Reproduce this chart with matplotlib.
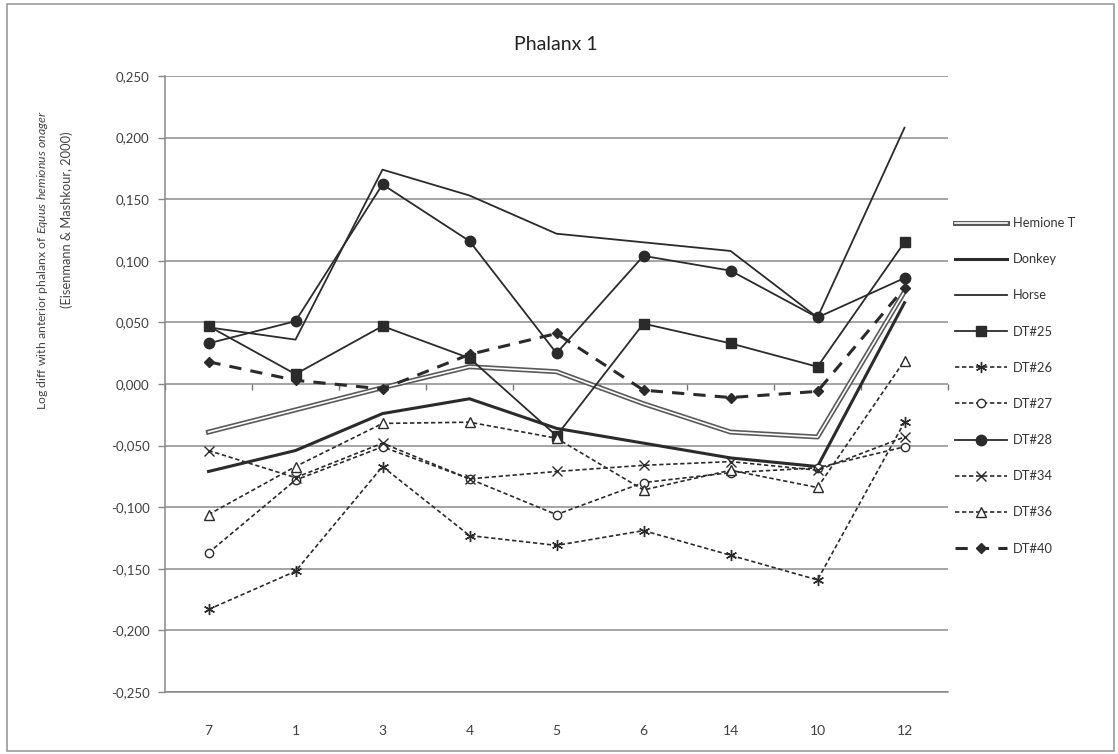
import matplotlib
matplotlib.use("Agg")
import matplotlib.pyplot as plt
import matplotlib.patheffects as pe
from matplotlib.patches import Rectangle
from matplotlib.ticker import FuncFormatter, FixedLocator

plt.rcParams['font.family'] = ['Lato', 'DejaVu Sans']
plt.rcParams['mathtext.fontset'] = 'custom'
plt.rcParams['mathtext.it'] = 'Lato:italic'
plt.rcParams['mathtext.rm'] = 'Lato'

categories = ['7', '1', '3', '4', '5', '6', '14', '10', '12']
hemione = [-0.039, -0.021, -0.003, 0.014, 0.010, -0.016, -0.039, -0.043, 0.075]
donkey = [-0.071, -0.054, -0.024, -0.012, -0.036, -0.048, -0.060, -0.067, 0.066]
horse = [0.046, 0.036, 0.174, 0.153, 0.122, 0.115, 0.108, 0.054, 0.208]
dt25 = [0.047, 0.008, 0.047, 0.021, -0.042, 0.049, 0.033, 0.014, 0.115]
dt26 = [-0.183, -0.152, -0.067, -0.123, -0.131, -0.119, -0.139, -0.159, -0.031]
dt27 = [-0.137, -0.078, -0.051, -0.077, -0.106, -0.080, -0.072, -0.068, -0.051]
dt28 = [0.033, 0.051, 0.162, 0.116, 0.025, 0.104, 0.092, 0.054, 0.086]
dt34 = [-0.054, -0.076, -0.048, -0.077, -0.071, -0.066, -0.063, -0.070, -0.043]
dt36 = [-0.106, -0.067, -0.032, -0.031, -0.044, -0.086, -0.070, -0.084, 0.019]
dt40 = [0.018, 0.003, -0.004, 0.024, 0.041, -0.005, -0.011, -0.006, 0.078]
yticks = [-0.25, -0.20, -0.15, -0.10, -0.05, 0.0, 0.05, 0.10, 0.15, 0.20, 0.25]

W, H = 1118, 754
fig = plt.figure(figsize=(W / 100, H / 100), dpi=100)
ax = fig.add_axes([165 / W, 1 - 692 / H, (948 - 165) / W, (692 - 76) / H])

x = list(range(len(categories)))
dark = '#2b2b2b'
thin_dash = (0, (2.6, 1.6))

ax.plot(x, hemione, color='white', lw=1.2, label='Hemione T', zorder=3,
        path_effects=[pe.Stroke(linewidth=3.6, foreground='#5a5a5a'), pe.Normal()])
ax.plot(x, donkey, color=dark, lw=2.2, label='Donkey', zorder=3)
ax.plot(x, horse, color=dark, lw=1.3, label='Horse', zorder=3)
ax.plot(x, dt25, color=dark, lw=1.3, marker='s', ms=7, mfc=dark, mec=dark, label='DT#25', zorder=4)
ax.plot(x, dt26, color=dark, lw=1.2, ls=thin_dash, marker=(6, 2, 0), ms=8, mew=1.0,
        mec=dark, label='DT#26', zorder=4)
ax.plot(x, dt27, color=dark, lw=1.2, ls=thin_dash, marker='o', ms=6, mfc='white', mec=dark,
        mew=1.0, label='DT#27', zorder=4)
ax.plot(x, dt28, color=dark, lw=1.3, marker='o', ms=7.5, mfc=dark, mec=dark, label='DT#28', zorder=4)
ax.plot(x, dt34, color=dark, lw=1.2, ls=thin_dash, marker='x', ms=7, mew=1.0, mec=dark,
        label='DT#34', zorder=4)
ax.plot(x, dt36, color=dark, lw=1.2, ls=thin_dash, marker='^', ms=7, mfc='white', mec=dark,
        mew=1.0, label='DT#36', zorder=4)
ax.plot(x, dt40, color=dark, lw=2.2, ls=(0, (4, 3)), marker='D', ms=5, mfc=dark, mec=dark,
        label='DT#40', zorder=4)

ax.set_xlim(-0.5, len(categories) - 0.5)
ax.set_ylim(-0.25, 0.25)
ax.set_yticks(yticks)
ax.yaxis.set_major_formatter(FuncFormatter(lambda v, p: ('%.3f' % v).replace('.', ',').replace('-0,000', '0,000')))
ax.set_xticks(x)
ax.set_xticklabels(categories)
ax.tick_params(axis='x', length=0, pad=24, labelsize=10, labelcolor='#404040')
ax.tick_params(axis='y', length=5, width=1, color='#888888', direction='out', pad=6,
               labelsize=9.5, labelcolor='#404040')
ax.grid(axis='y', color='#8c8c8c', lw=1.1)
ax.set_axisbelow(True)
for s in ['top', 'right']:
    ax.spines[s].set_visible(False)
for s in ['left', 'bottom']:
    ax.spines[s].set_color('#888888')
    ax.spines[s].set_linewidth(1.1)

# category axis crossing at zero with boundary tick marks
sec = ax.secondary_xaxis(0.5)
sec.xaxis.set_ticks_position('bottom')
sec.xaxis.set_major_locator(FixedLocator([i + 0.5 for i in range(-1, len(categories))]))
sec.tick_params(axis='x', which='major', length=4, width=1, direction='out', color='#777777',
                labelbottom=False, labeltop=False, bottom=True, top=False)
sec.spines['bottom'].set_color('#8c8c8c')
sec.spines['top'].set_visible(False)

fig.text(556 / W, 1 - 44 / H, 'Phalanx 1', ha='center', va='center', fontsize=14, color='#222222')

fig.text(43 / W, 1 - 260 / H,
         r'Log diff with anterior phalanx of $\mathit{Equus\ hemionus\ onager}$',
         rotation=90, ha='center', va='center', fontsize=8.8, color='#444444')
fig.text(67 / W, 1 - 220 / H, '(Eisenmann & Mashkour, 2000)',
         rotation=90, ha='center', va='center', fontsize=9.3, color='#444444')

leg = ax.legend(loc='upper left', bbox_to_anchor=(950 / W, 1 - 212 / H), bbox_transform=fig.transFigure,
                frameon=False, fontsize=9.3, labelspacing=1.87, handlelength=4.0, handletextpad=0.5,
                borderaxespad=0)
for t in leg.get_texts():
    t.set_color('#333333')

fig.patches.append(Rectangle((7 / W, 3 / H), (1114 - 7) / W, (750 - 3) / H, transform=fig.transFigure,
                             fill=False, ec='#9a9a9a', lw=1.2))

fig.savefig('out.png', dpi=100)
